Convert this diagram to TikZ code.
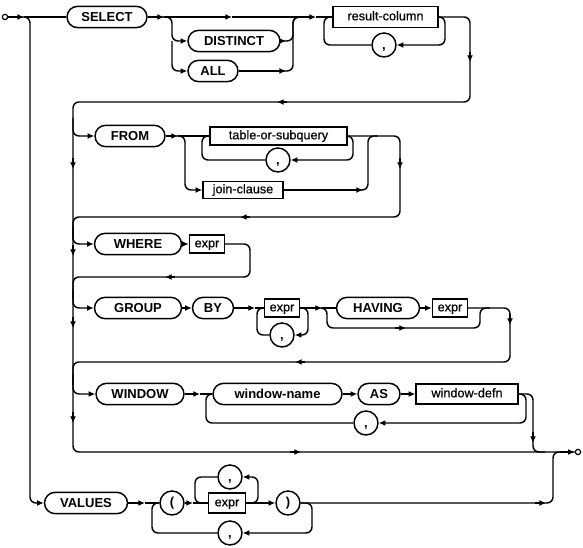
\documentclass[tikz,border=0pt]{standalone}
\usepackage{fontspec}
\setmainfont{Liberation Sans}
\newfontfamily\ntfamily[FakeBold=0.6]{Liberation Sans}
\usetikzlibrary{arrows.meta}
\tikzset{every picture/.style={line width=1.1pt}}
\tikzset{
  kw/.style={draw, rounded corners=8pt, minimum height=16pt, inner sep=0pt, text height=7pt, text depth=0pt, font=\fontsize{9.75}{11}\selectfont\bfseries},
  nt/.style={draw, rectangle, minimum height=13.5pt, inner sep=0pt, text height=6.5pt, text depth=1.5pt, font=\fontsize{9.5}{11}\ntfamily},
  sym/.style={draw, circle, minimum size=18pt, inner sep=0pt, text height=7pt, text depth=0pt, font=\fontsize{9.75}{11}\selectfont\bfseries},
  dot/.style={draw, circle, minimum size=4pt, inner sep=0pt, line width=0.9pt},
  rail/.style={rounded corners=4.5pt},
  arr/.style={-{Latex[length=5pt,width=4.5pt]}},
}

\begin{document}
\begin{tikzpicture}[x=0.75pt,y=0.75pt,yscale=-1,xscale=1]
\useasboundingbox (0,0) rectangle (583,548);

% Nodes
\node[dot] (start) at (5,17) {};
\node[kw, minimum width=60pt] (select) at (107,17) {SELECT};
\node[kw, minimum width=69pt] (distinct) at (234,41) {DISTINCT};
\node[kw, minimum width=37.5pt] (all) at (213,71) {ALL};
\node[nt, minimum width=78.75pt, minimum height=15.75pt] (rescol) at (385.5,17) {result-column};
\node[sym] (comma1) at (384,45) {,};
\node[kw, minimum width=52.5pt] (from) at (130,136) {FROM};
\node[nt, minimum width=102.75pt] (tos) at (278.5,136) {table-or-subquery};
\node[sym] (comma2) at (278,160) {,};
\node[nt, minimum width=60pt, minimum height=12.75pt] (join) at (243,190) {join-clause};
\node[kw, minimum width=65.25pt] (where) at (138,244) {WHERE};
\node[nt, minimum width=26.25pt] (expr1) at (207,244) {expr};
\node[kw, minimum width=65.25pt] (group) at (138,308) {GROUP};
\node[kw, minimum width=30.75pt] (by) at (213,308) {BY};
\node[nt, minimum width=26.25pt] (expr2) at (282,308) {expr};
\node[sym] (comma3) at (282,335) {,};
\node[kw, minimum width=62.25pt] (having) at (378,308) {HAVING};
\node[nt, minimum width=26.25pt] (expr3) at (450,308) {expr};
\node[kw, minimum width=66pt] (window) at (140,394) {WINDOW};
\node[kw, minimum width=96.75pt] (wname) at (277.5,394) {window-name};
\node[kw, minimum width=31.5pt] (as) at (379,394) {AS};
\node[nt, minimum width=76.5pt, minimum height=15pt] (wdefn) at (467,394) {window-defn};
\node[sym] (comma4) at (366,423) {,};
\node[dot] (endp) at (578,452) {};
\node[kw, minimum width=62.25pt] (values) at (86,503) {VALUES};
\node[sym, text height=7.5pt, text depth=2pt] (lpar) at (172,503) {(};
\node[nt, minimum width=27.75pt, minimum height=15pt] (expr4) at (227,503) {expr};
\node[sym, text height=7.5pt, text depth=2pt] (rpar) at (288,503) {)};
\node[sym] (comma5) at (230,477) {,};
\node[sym] (comma6) at (230,533) {,};

% SELECT row
\draw[arr] (start) -- (24,17);
\draw (24,17) -- (select.west);
\draw[arr] (select.east) -- (164,17);
\draw[arr] (164,17) -- (232,17);
\draw[arr] (232,17) -- (316,17);
\draw (316,17) -- (rescol.west);
\draw[rail,arr] (160,17) -| (172,41) -- (distinct.west);
\draw[rail,arr] (172,41) |- (all.west);
\draw[arr] (distinct.east) -- (286,41);
\draw[rail] (distinct.east) -| (293,17) -- (302,17);
\draw[arr] (all.east) -- (286,71);
\draw[rail] (all.east) -| (293,17) -- (302,17);
\draw[rail,arr] (rescol.east) -| (445,45) -- (comma1.east);
\draw[rail] (comma1.west) -| (324,17) -- (rescol.west);

% long rail on the left and the way out
\draw[rail] (rescol.east) -| (470,102) -| (73,452) -- (endp.west);
\draw[arr] (470,52) -- (470,62);
\draw[arr] (287,102) -- (277,102);
\draw[arr] (73,158) -- (73,169);
\draw[arr] (73,245) -- (73,256);
\draw[arr] (73,317) -- (73,328);
\draw[arr] (73,412) -- (73,423);
\draw[arr] (290,452) -- (301,452);
\draw[arr] (560,452) -- (endp.west);

% FROM row
\draw[rail,arr] (73,118) |- (from.west);
\draw[arr] (from.east) -- (178,136);
\draw (178,136) -- (tos.west);
\draw[rail,arr] (176,136) -| (185,190) -- (join.west);
\draw[rail,arr] (tos.east) -| (353,160) -- (comma2.east);
\draw[rail] (comma2.west) -| (202,136) -- (tos.west);
\draw[arr] (join.east) -- (363,190);
\draw[rail] (join.east) -| (368,136) -- (378,136);
\draw[rail] (tos.east) -| (400,217) -| (73,240);
\draw[arr] (400,158) -- (400,169);
\draw[arr] (250,217) -- (240,217);

% WHERE row
\draw[rail,arr] (73,226) |- (where.west);
\draw[arr] (where.east) -- (expr1.west);
\draw[rail] (expr1.east) -| (250,277) -| (73,300);
\draw[arr] (175,277) -- (165,277);

% GROUP BY row
\draw[rail,arr] (73,290) |- (group.west);
\draw[arr] (group.east) -- (by.west);
\draw[arr] (by.east) -- (255,308);
\draw (255,308) -- (expr2.west);
\draw[rail,arr] (expr2.east) -| (308,335) -- (comma3.east);
\draw[rail] (comma3.west) -| (257,308) -- (expr2.west);
\draw[arr] (expr2.east) -- (322,308);
\draw (322,308) -- (having.west);
\draw[rail] (319,308) -| (327,328) -| (480,308) -- (490,308);
\draw[arr] (395,328) -- (406,328);
\draw[arr] (having.east) -- (expr3.west);
\draw[rail] (expr3.east) -| (510,362) -| (73,385);
\draw[arr] (510,314) -- (510,325);
\draw[arr] (305,362) -- (295,362);

% WINDOW row
\draw[rail,arr] (73,375) |- (window.west);
\draw[arr] (window.east) -- (200,394);
\draw (200,394) -- (wname.west);
\draw[arr] (wname.east) -- (as.west);
\draw[arr] (as.east) -- (wdefn.west);
\draw[rail,arr] (wdefn.east) -| (526,423) -- (comma4.east);
\draw[rail] (comma4.west) -| (206,394) -- (wname.west);
\draw[rail] (wdefn.east) -| (533,452) -- (545,452);
\draw[arr] (533,432) -- (533,443);

% VALUES row
\draw[rail,arr] (20,17) -| (30,503) -- (values.west);
\draw[arr] (values.east) -- (145,503);
\draw (145,503) -- (lpar.west);
\draw[rail,arr] (rpar.east) -| (312,533) -- (comma6.east);
\draw[rail] (comma6.west) -| (152,503) -- (lpar.west);
\draw[arr] (lpar.east) -- (193,503);
\draw (193,503) -- (expr4.west);
\draw[rail,arr] (expr4.east) -| (258,477) -- (comma5.east);
\draw[rail] (comma5.west) -| (195,503) -- (expr4.west);
\draw[arr] (expr4.east) -- (rpar.west);
\draw[rail] (rpar.east) -| (553,452) -- (562,452);
\draw[arr] (535,503) -- (546,503);

\end{tikzpicture}
\end{document}
